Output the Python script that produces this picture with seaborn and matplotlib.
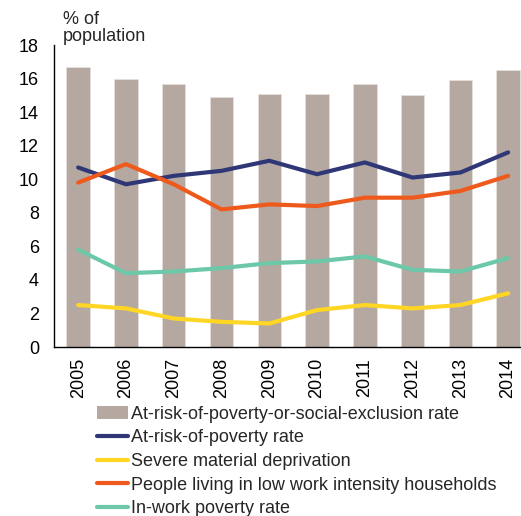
import matplotlib
matplotlib.use("Agg")
import matplotlib.pyplot as plt
import seaborn as sns
import pandas as pd
from matplotlib.patches import Patch
from matplotlib.lines import Line2D

years = ["2005", "2006", "2007", "2008", "2009", "2010", "2011", "2012", "2013", "2014"]
arope = [16.7, 16.0, 15.7, 14.9, 15.1, 15.1, 15.7, 15.0, 15.9, 16.5]
arop = [10.7, 9.7, 10.2, 10.5, 11.1, 10.3, 11.0, 10.1, 10.4, 11.6]
smd = [2.5, 2.3, 1.7, 1.5, 1.4, 2.2, 2.5, 2.3, 2.5, 3.2]
lwi = [9.8, 10.9, 9.7, 8.2, 8.5, 8.4, 8.9, 8.9, 9.3, 10.2]
inwork = [5.8, 4.4, 4.5, 4.7, 5.0, 5.1, 5.4, 4.6, 4.5, 5.3]

labels = ["At-risk-of-poverty-or-social-exclusion rate", "At-risk-of-poverty rate",
          "Severe material deprivation", "People living in low work intensity households",
          "In-work poverty rate"]
colors = ["#B5A8A0", "#2F3777", "#FFD624", "#EE5A1C", "#6CC8A8"]

sns.set_theme(style="white")
plt.rcParams["font.family"] = ["Liberation Sans", "DejaVu Sans"]

FS = 13

fig = plt.figure(figsize=(5.21, 5.16), dpi=100)
ax = fig.add_axes([54.3 / 521, 1 - 347 / 516, (532 - 54.3) / 521, (347 - 45) / 516])

df_bar = pd.DataFrame({"year": years, "value": arope})
sns.barplot(data=df_bar, x="year", y="value", color=colors[0], width=0.49,
            saturation=1, edgecolor="#E6E0DC", linewidth=0.6, ax=ax)

pos = list(range(len(years)))
for vals, col in zip([arop, smd, lwi, inwork], colors[1:]):
    d = pd.DataFrame({"pos": pos, "value": vals})
    sns.lineplot(data=d, x="pos", y="value", color=col, linewidth=3.0, ax=ax,
                 solid_capstyle="round")

ax.set_xlim(-0.5, 9.5)
ax.set_ylim(0, 18)
ax.set_yticks(range(0, 19, 2))
ax.set_xlabel("")
ax.set_ylabel("")
ax.set_xticks(pos)
ax.set_xticklabels(years, rotation=90, fontsize=FS, color="black")
ax.tick_params(axis="y", labelsize=FS, pad=11, length=0, colors="black")
ax.tick_params(axis="x", pad=8, length=0)
for s in ["top", "right"]:
    ax.spines[s].set_visible(False)
for s in ["left", "bottom"]:
    ax.spines[s].set_color("black")
    ax.spines[s].set_linewidth(1.0)

fig.text(63 / 521, 1 - 11 / 516, "% of\npopulation", fontsize=FS, va="top", ha="left",
         linespacing=1.0)

handles = [Patch(facecolor=colors[0], edgecolor="none")] + \
          [Line2D([0], [0], color=c, linewidth=3.0) for c in colors[1:]]
fig.legend(handles, labels, loc="upper left", bbox_to_anchor=(97 / 521, 1 - 406 / 516),
           frameon=False, fontsize=FS, handlelength=1.7, handletextpad=0.2,
           labelspacing=0.36, borderaxespad=0, borderpad=0)

fig.savefig("out.png", dpi=100)
